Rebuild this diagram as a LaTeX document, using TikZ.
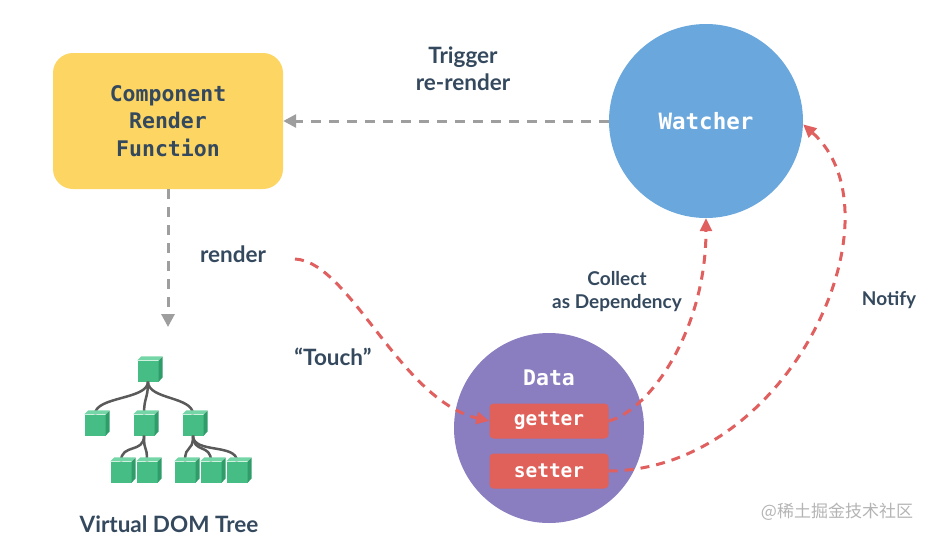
\documentclass[tikz,border=0pt]{standalone}
\usepackage{fontspec}
\setmainfont{Lato}
\newfontfamily\codefont{DejaVu Sans Mono}
\newfontfamily\cjkfont{Noto Sans CJK SC}
\usepackage{tikz}
\usetikzlibrary{arrows.meta}

\definecolor{compyellow}{HTML}{FCD562}
\definecolor{watcherblue}{HTML}{6AA7DC}
\definecolor{datapurple}{HTML}{8A7DC0}
\definecolor{fieldred}{HTML}{E0605A}
\definecolor{flowred}{HTML}{E05F5F}
\definecolor{flowgray}{HTML}{9E9E9E}
\definecolor{darktext}{HTML}{35495E}
\definecolor{cubefront}{HTML}{45BD84}
\definecolor{cubetop}{HTML}{74D6A6}
\definecolor{cubeside}{HTML}{2F9C69}
\definecolor{treegray}{HTML}{5A5A5A}
\definecolor{markgray}{HTML}{B4B4B4}

\tikzset{
    label/.style={font=\bfseries\fontsize{22.5}{27}\selectfont, text=darktext, align=center},
    smalllabel/.style={font=\bfseries\fontsize{19}{23}\selectfont, text=darktext, align=center},
    code/.style={font=\codefont\bfseries\fontsize{21.5}{27.5}\selectfont, align=center},
    comp/.style={code, fill=compyellow, text=darktext, rounded corners=20pt,
        minimum width=230pt, minimum height=136pt},
    field/.style={code, font=\codefont\bfseries\fontsize{19.5}{21}\selectfont, fill=fieldred,
        text=white, rounded corners=4pt, minimum width=119pt, minimum height=35pt},
    grayflow/.style={draw=flowgray, line width=3pt, dash pattern=on 10pt off 8pt,
        -{Triangle[length=13pt,width=13pt]}},
    redflow/.style={draw=flowred, line width=3pt, dash pattern=on 9pt off 7pt,
        -{Triangle[length=13pt,width=12pt]}},
    cube/.style={fill=cubefront, minimum size=21pt, inner sep=0pt},
    edge from parent/.style={draw=treegray, line width=2.5pt},
    edge from parent path={(\tikzparentnode.south) .. controls +(0,18) and +(0,-18) .. (\tikzchildnode.north)}
}

\begin{document}
\begin{tikzpicture}[x=1pt,y=-1pt]
    \useasboundingbox (0,0) rectangle (935,539);

    \node[comp] (comp) at (168,121) {Component\\Render\\Function};
    \node[circle, fill=watcherblue, minimum size=194pt, code, text=white,
        font=\codefont\bfseries\fontsize{22.5}{26}\selectfont] (watcher) at (706,121) {Watcher};
    \node[circle, fill=datapurple, minimum size=190pt] (data) at (549,428) {};
    \node[code, text=white] (datalabel) at (549,378) {Data};
    \node[field] (getter) at (549,421) {getter};
    \node[field] (setter) at (549,471) {setter};

    \node[label] (trigger) at (463,69) {Trigger\\re-render};
    \node[label] (render) at (233,254) {render};
    \node[label] (touch) at (333,357) {“Touch”};
    \node[smalllabel] (collect) at (617,292) {Collect\\as Dependency};
    \node[smalllabel] (notify) at (889,300) {Notify};
    \node[label] (vdom) at (169,524) {Virtual DOM Tree};
    \node[font=\cjkfont\fontsize{17}{20}\selectfont, text=markgray] (mark) at (837,512) {@稀土掘金技术社区};

    \node[cube] (v0) at (148,371) {}
        [sibling distance=49pt, level distance=54pt]
        child[xshift=-4pt] { node[cube] (v1) {} }
        child[xshift=-4pt] {
            node[cube] (v2) {}
                [sibling distance=26pt, level distance=47pt]
                child[xshift=-10pt] { node[cube] (v21) {} }
                child[xshift=-10pt] { node[cube] (v22) {} }
        }
        child[xshift=-4pt] {
            node[cube] (v3) {}
                [sibling distance=26pt, level distance=47pt]
                child[xshift=18pt] { node[cube] (v31) {} }
                child[xshift=18pt] { node[cube] (v32) {} }
                child[xshift=18pt] { node[cube] (v33) {} }
        };
    \foreach \c in {v0,v1,v2,v3,v21,v22,v31,v32,v33} {
        \fill[cubetop] (\c.north west) -- ++(4,-4) -- ++(21,0) -- (\c.north east) -- cycle;
        \fill[cubeside] (\c.north east) -- ++(4,-4) -- ++(0,21) -- (\c.south east) -- cycle;
    }

    \coordinate (vdomtop) at (168,327);
    \coordinate (touchstart) at (295,259);
    \draw[grayflow] (comp.south) -- (vdomtop);
    \draw[grayflow] (watcher.west) -- (comp.east);
    \draw[redflow] (touchstart) .. controls (350,262) and (400,400) .. (getter.west);
    \draw[redflow] (getter.east) .. controls (650,410) and (706,330) .. (watcher.south);
    \draw[redflow] (setter.east) .. controls (790,470) and (905,215) .. (watcher.-2);
\end{tikzpicture}
\end{document}
